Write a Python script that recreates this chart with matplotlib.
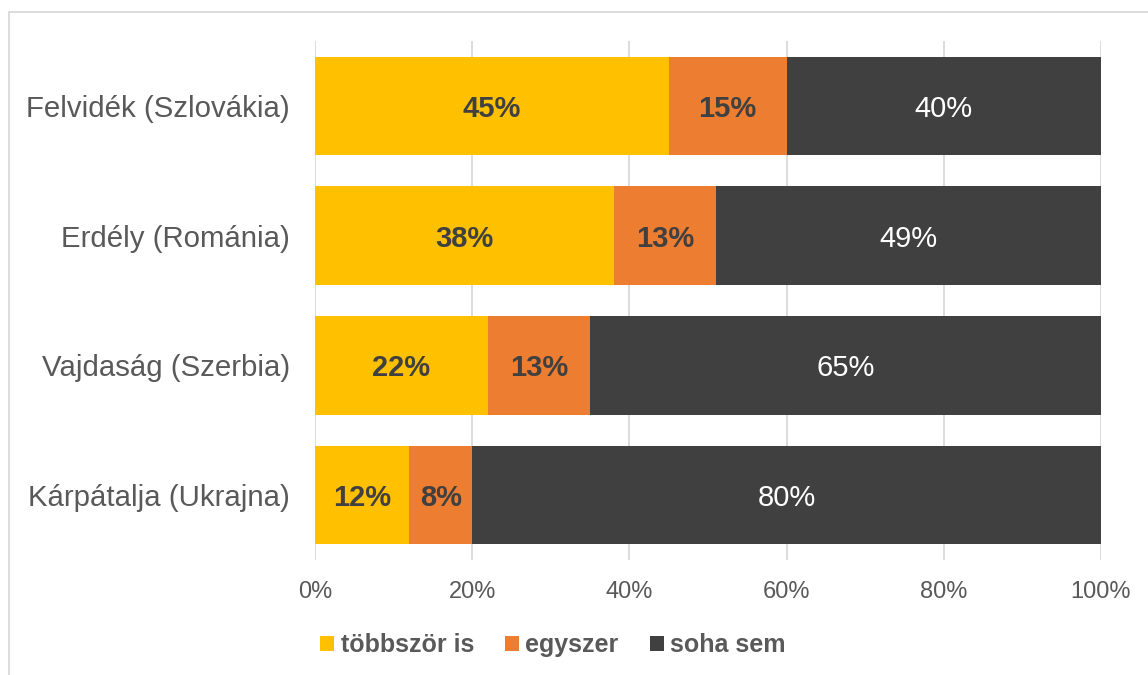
import matplotlib
matplotlib.use("Agg")
import matplotlib.pyplot as plt
from matplotlib.patches import Rectangle, Patch

categories = ["Felvidék (Szlovákia)", "Erdély (Románia)", "Vajdaság (Szerbia)", "Kárpátalja (Ukrajna)"]
series_names = ["többször is", "egyszer", "soha sem"]
tobbszor = [45, 38, 22, 12]
egyszer = [15, 13, 13, 8]
soha = [40, 49, 65, 80]
xticks = [0, 20, 40, 60, 80, 100]
xticklabels = ["0%", "20%", "40%", "60%", "80%", "100%"]

colors = ["#FFC000", "#ED7D31", "#404040"]
label_colors = ["#404040", "#404040", "#FFFFFF"]
label_weights = ["bold", "bold", "normal"]
gray = "#595959"

plt.rcParams['font.family'] = ['Liberation Sans', 'DejaVu Sans']

W, H = 1148, 675
fig = plt.figure(figsize=(W / 100, H / 100), dpi=100)
fig.patch.set_facecolor("white")

# outer border
fig.patches.append(Rectangle((8.5 / W, -0.1), 2, 1 - 11.5 / H + 0.1, transform=fig.transFigure,
                             fill=False, edgecolor="#D9D9D9", linewidth=1.3, zorder=0))

ax = fig.add_axes([315 / W, 1 - 560 / H, 786 / W, 519 / H])
ax.set_xlim(0, 100)
ax.set_ylim(len(categories) - 0.5, -0.5)

for x in xticks:
    ax.axvline(x, color="#D9D9D9", linewidth=1.3, zorder=0)

ypos = list(range(len(categories)))
left = [0] * len(categories)
for si, vals in enumerate([tobbszor, egyszer, soha]):
    ax.barh(ypos, vals, left=left, height=0.76, color=colors[si], zorder=2, label=series_names[si])
    for i, v in enumerate(vals):
        ax.text(left[i] + v / 2, ypos[i], f"{v}%", ha="center", va="center_baseline",
                fontsize=21, color=label_colors[si], fontweight=label_weights[si], zorder=3)
    left = [l + v for l, v in zip(left, vals)]

ax.set_yticks(ypos)
ax.set_yticklabels(categories, fontsize=21.2, color=gray)
ax.set_xticks(xticks)
ax.set_xticklabels(xticklabels, fontsize=17, color=gray)
ax.tick_params(axis="both", length=0)
ax.tick_params(axis="y", pad=18)
ax.tick_params(axis="x", pad=15)
for s in ax.spines.values():
    s.set_visible(False)

handles = [Patch(facecolor=c, edgecolor="none") for c in colors]
leg = fig.legend(handles, series_names, loc="center", bbox_to_anchor=(553 / W, 1 - 645 / H),
                 ncol=3, frameon=False, fontsize=18, handlelength=0.56, handleheight=0.56,
                 handletextpad=0.25, columnspacing=1.25, borderpad=0, borderaxespad=0)
for t in leg.get_texts():
    t.set_color(gray)
    t.set_fontweight("bold")

fig.savefig("out.png", dpi=100)
